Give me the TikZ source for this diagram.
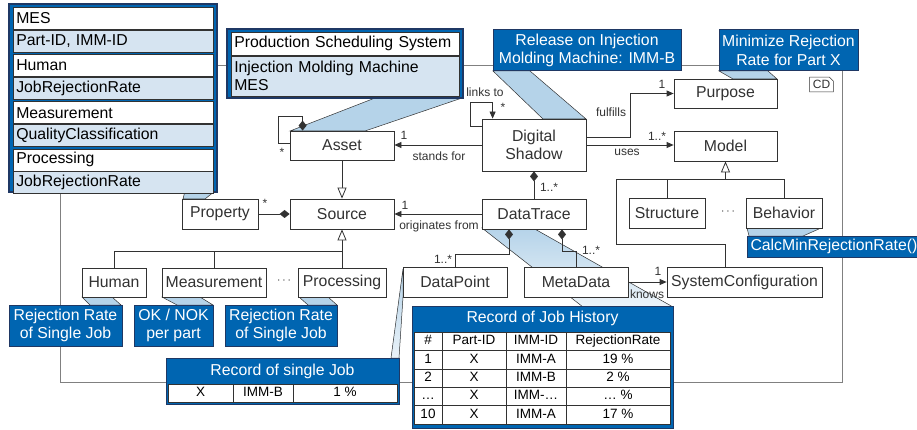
\documentclass[tikz,border=0pt]{standalone}
\usepackage{fontspec}
\setmainfont{Liberation Sans}
\usetikzlibrary{positioning,arrows.meta,calc,matrix}

\definecolor{calloutblue}{RGB}{0,101,177}
\definecolor{calloutline}{RGB}{31,56,100}
\definecolor{tailblue}{RGB}{181,211,233}
\definecolor{rowblue}{RGB}{214,228,241}
\definecolor{umlline}{RGB}{50,50,50}

\tikzset{
  umlclass/.style={draw=umlline, fill=white, inner sep=2pt, align=center, font=\fontsize{15.8}{18.5}\selectfont},
  callout/.style={draw=calloutline, fill=calloutblue, text=white, line width=1pt, inner sep=2pt, align=center, font=\fontsize{15.8}{18.5}\selectfont},
  calloutrow/.style={draw=umlline, line width=0.6pt, inner xsep=3pt, inner ysep=0pt, align=left, text=black, font=\fontsize{15.8}{18.5}\selectfont},
  tail/.style={fill=tailblue, draw=umlline, line width=0.5pt},
  lbl/.style={inner sep=0pt, font=\fontsize{12}{14}\selectfont},
  assoc/.style={-{Triangle[length=7pt,width=6pt]}},
  compo/.style={{Diamond[length=10pt,width=8pt]}-},
  gen/.style={-{Triangle[open,length=11pt,width=9pt,fill=white]}},
  cell/.style={draw=umlline, fill=white, text=black, line width=0.6pt, inner sep=0pt, anchor=center, text height=9.5pt, text depth=2.5pt, minimum height=18.4pt, font=\fontsize{13.5}{15}\selectfont},
}

\begin{document}
\begin{tikzpicture}[x=1pt, y=-1pt, line width=0.8pt, color=umlline]
\useasboundingbox (0,0) rectangle (917,430);
% frame of the class diagram
\draw[gray, line width=1pt] (60,66) rectangle (842,382);
\node[lbl, draw=none, minimum width=23pt, minimum height=14pt] (cdtag) at (821.5,84.5) {CD};
\draw[line width=0.6pt] (cdtag.south west) -- (cdtag.north west) -- ($(cdtag.north east)+(-4,0)$) -- ($(cdtag.north east)+(0,4)$) -- (cdtag.south east) -- cycle;

% callout tails
\draw[tail] (185,191) -- (215,191) -- (205,199) -- (183,199) -- cycle;
\draw[tail] (375,98) -- (462,98) -- (365,131) -- (290,131) -- cycle;
\draw[tail] (493,71) -- (530,71) -- (586,119) -- (543,119) -- cycle;
\draw[tail] (719,71) -- (768,71) -- (777,79) -- (733,79) -- cycle;
\draw[tail] (747,228) -- (821,228) -- (803,236) -- (749,236) -- cycle;
\draw[tail] (82,297) -- (112,297) -- (121,305) -- (90,305) -- cycle;
\draw[tail] (162,297) -- (200,297) -- (213,305) -- (177,305) -- cycle;
\draw[tail] (299,297) -- (328,297) -- (337,305) -- (308,305) -- cycle;
\draw[tail, top color=tailblue, bottom color=tailblue!30] (403,269) -- (403,297) -- (399,358) -- (391,358) -- cycle;
\draw[tail, top color=tailblue, bottom color=tailblue!25] (482,228) -- (533,228) -- (673,307) -- (583,307) -- cycle;

% classes
\node[umlclass, minimum width=104pt, minimum height=29pt] (asset) at (342,145.5) {Asset};
\node[umlclass, minimum width=104pt, minimum height=30pt] (source) at (342,214) {Source};
\node[umlclass, minimum width=76pt, minimum height=30pt] (property) at (220,214) {Property};
\node[umlclass, minimum width=64pt, minimum height=29pt] (human) at (114,282.5) {Human};
\node[umlclass, minimum width=104pt, minimum height=29pt] (measurement) at (214,282.5) {Measurement};
\node[umlclass, minimum width=88pt, minimum height=29pt] (processing) at (342,282.5) {Processing};
\node[lbl] (srcdots) at (284,281) {$\cdots$};
\node[umlclass, minimum width=104pt, minimum height=52pt] (shadow) at (534,145) {Digital\\Shadow};
\node[umlclass, minimum width=104pt, minimum height=30pt] (datatrace) at (534,214) {DataTrace};
\node[umlclass, minimum width=104pt, minimum height=30pt] (datapoint) at (455,282) {DataPoint};
\node[umlclass, minimum width=104pt, minimum height=30pt] (metadata) at (576,282) {MetaData};
\node[umlclass, minimum width=155pt, minimum height=30pt] (sysconf) at (744.5,282) {SystemConfiguration};
\node[umlclass, minimum width=103pt, minimum height=29pt] (purpose) at (725.5,93.5) {Purpose};
\node[umlclass, minimum width=103pt, minimum height=30pt] (model) at (725.5,146) {Model};
\node[umlclass, minimum width=76pt, minimum height=30pt] (structure) at (667,213) {Structure};
\node[umlclass, minimum width=76pt, minimum height=30pt] (behavior) at (784,213) {Behavior};
\node[lbl] (mdldots) at (728,212) {$\cdots$};

% associations
\draw[compo] ($(asset.north west)+(13,0)$) -- ++(0,-14) -- ++(-24,0) |- ($(asset.west)+(0,-2)$);
\node[lbl] (assetstar) at (282,152) {*};
\draw[gen] (asset) -- (source);
\draw[assoc] (shadow.west) -- (shadow.west -| asset.east);
\node[lbl] (standsone) at (404,135) {1};
\node[lbl] (standsfor) at (439,156) {stands for};
\draw[assoc] ($(shadow.north west)+(0,8)$) -- ++(-11,0) |- ($(shadow.north west)+(11,-16)$) -- ($(shadow.north west)+(11,0)$);
\node[lbl] (linksto) at (485,92) {links to};
\node[lbl] (linksstar) at (503,107) {*};
\draw[assoc] ($(shadow.east)+(0,-8)$) -- ++(44,0) |- (purpose.west);
\node[lbl] (fulfillsone) at (662,84) {1};
\node[lbl] (fulfills) at (611,112) {fulfills};
\draw[assoc] (shadow.east) -- (shadow.east -| model.west);
\node[lbl] (usesmult) at (657,136) {1..*};
\node[lbl] (uses) at (627,152) {uses};
\draw[compo] (shadow.south) -- (datatrace.north);
\node[lbl] (tracemult) at (549,187) {1..*};
\draw[assoc] (datatrace.west) -- (source.east);
\node[lbl] (origone) at (405,205) {1};
\node[lbl] (origfrom) at (439,226) {originates from};
\draw[compo] (source.west) -- (property.east);
\node[lbl] (propstar) at (265,203) {*};

% specializations of source
\coordinate (srcjoin) at ($(source.south)+(0,22)$);
\draw[gen] (srcjoin) -- (source.south);
\draw (human.north) |- (srcjoin);
\draw (measurement.north) -- (measurement.north |- srcjoin);
\draw (processing.north) -- (srcjoin);

% data trace parts
\draw[compo] ($(datatrace.south)+(-25,0)$) -- ++(0,25) -| (datapoint.north);
\node[lbl] (pointmult) at (443,259) {1..*};
\draw[compo] ($(datatrace.south)+(28,0)$) -- ++(0,22) -| (metadata.north);
\node[lbl] (metamult) at (591,250) {1..*};
\draw[assoc] (metadata.east) -- (sysconf.west);
\node[lbl] (knowsone) at (658,271) {1};
\node[lbl] (knows) at (647,294) {knows};

% specializations of model
\coordinate (mdljoin) at ($(model.south)+(0,18)$);
\draw[gen] (mdljoin) -- (model.south);
\draw (structure.north) |- (mdljoin);
\draw (behavior.north) |- (mdljoin);
\draw (sysconf.north -| mdljoin) -- ++(0,-22) -| ($(mdljoin)+(-109,0)$) -- (mdljoin);

% source callout
\node[callout, line width=1.5pt, minimum width=208pt, minimum height=188pt] (mesbox) at (113,98) {};
\node[calloutrow, fill=white, text width=194pt, minimum height=22pt, anchor=north west] (mesname) at (13,7) {MES};
\node[calloutrow, fill=rowblue, text width=194pt, minimum height=22pt, below=0pt of mesname] (mesattr) {Part-ID, IMM-ID};
\node[calloutrow, fill=white, text width=194pt, minimum height=22pt, below=2pt of mesattr] (humname) {Human};
\node[calloutrow, fill=rowblue, text width=194pt, minimum height=22pt, below=0pt of humname] (humattr) {JobRejectionRate};
\node[calloutrow, fill=white, text width=194pt, minimum height=22pt, below=2pt of humattr] (measname) {Measurement};
\node[calloutrow, fill=rowblue, text width=194pt, minimum height=22pt, below=0pt of measname] (measattr) {QualityClassification};
\node[calloutrow, fill=white, text width=194pt, minimum height=22pt, below=2pt of measattr] (procname) {Processing};
\node[calloutrow, fill=rowblue, text width=194pt, minimum height=22pt, below=0pt of procname] (procattr) {JobRejectionRate};

% asset callout
\node[callout, line width=1.5pt, minimum width=236pt, minimum height=69pt] (psysbox) at (345,63.5) {};
\node[calloutrow, fill=white, text width=222pt, minimum height=23pt, anchor=north west] (psysname) at (231,32) {Production Scheduling System};
\node[calloutrow, fill=rowblue, text width=222pt, minimum height=40pt, below=0pt of psysname] (psysattr) {Injection Molding Machine\\MES};

% blue callouts
\node[callout, minimum width=188pt, minimum height=41pt] (release) at (587,50.5) {Release on Injection\\Molding Machine: IMM-B};
\node[callout, minimum width=139pt, minimum height=41pt] (minimize) at (788.5,50.5) {Minimize Rejection\\Rate for Part X};
\node[callout, minimum width=183pt, minimum height=21pt, text width=177pt, inner xsep=3pt, inner ysep=0pt, align=left, anchor=west] (calc) at (747,246.5) {CalcMinRejectionRate()};
\node[callout, minimum width=113pt, minimum height=41pt] (humrate) at (65.5,325.5) {Rejection Rate\\of Single Job};
\node[callout, minimum width=79pt, minimum height=41pt] (okrate) at (173.5,325.5) {OK / NOK\\per part};
\node[callout, minimum width=112pt, minimum height=41pt] (procrate) at (281,325.5) {Rejection Rate\\of Single Job};

% record of single job
\node[callout, minimum width=233pt, minimum height=46pt] (singlejob) at (282.5,381) {};
\node[callout, draw=none, fill=none] (singlehead) at (282.5,371) {Record of single Job};
\matrix (singletab) [matrix of nodes, nodes={cell, minimum height=18pt}, column sep=-0.6pt, inner sep=0pt,
  column 1/.style={nodes={minimum width=65pt}}, column 2/.style={nodes={minimum width=60pt}},
  column 3/.style={nodes={minimum width=104pt}}] at (282.5,393) {
X & IMM-B & 1 \% \\
};

% record of job history
\node[callout, minimum width=261pt, minimum height=122pt] (history) at (542.5,367) {};
\node[callout, draw=none, fill=none] (histhead) at (542.5,318.5) {Record of Job History};
\matrix (histtab) [matrix of nodes, nodes={cell}, column sep=-0.6pt, row sep=-0.6pt, inner sep=0pt,
  column 1/.style={nodes={minimum width=28pt}}, column 2/.style={nodes={minimum width=64pt}},
  column 3/.style={nodes={minimum width=60pt}}, column 4/.style={nodes={minimum width=104pt}}] at (542,378) {
\# & Part-ID & IMM-ID & RejectionRate \\
1 & X & IMM-A & 19 \% \\
2 & X & IMM-B & 2 \% \\
… & X & IMM-… & … \% \\
10 & X & IMM-A & 17 \% \\
};
\end{tikzpicture}
\end{document}
